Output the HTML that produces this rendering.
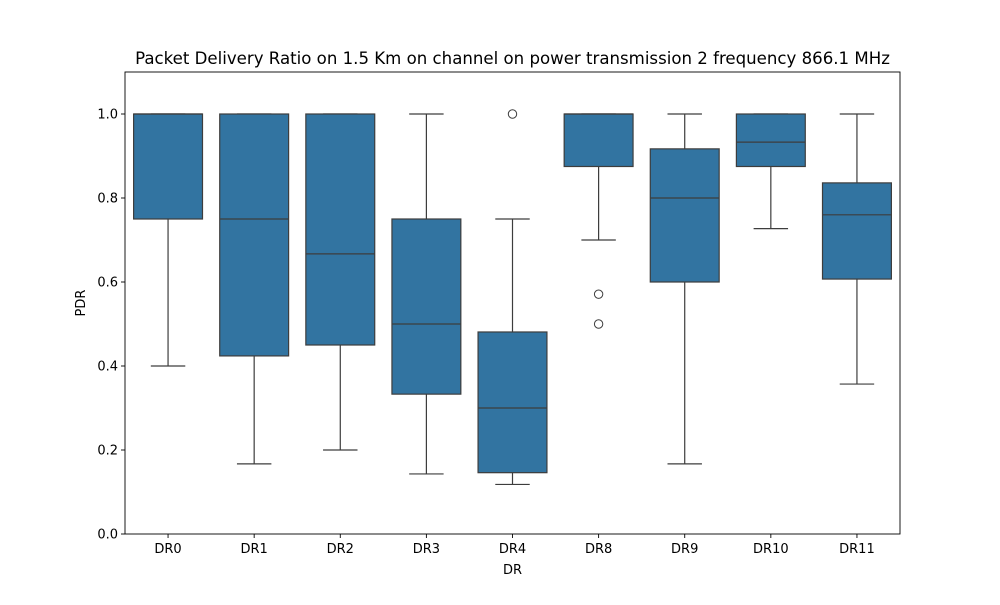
<!DOCTYPE html>
<html><head><meta charset="utf-8"><style>
body{margin:0;background:#fff;font-family:"Liberation Sans",sans-serif}
svg text{font-family:"DejaVu Sans","Liberation Sans",sans-serif;fill:#000}
</style></head><body>
<svg id="chart" width="1000" height="600" xmlns="http://www.w3.org/2000/svg">
<rect width="1000" height="600" fill="#fff"/>
<g id="marks"></g>
<g id="axes"></g>
</svg>
<script>
const categories=["DR0","DR1","DR2","DR3","DR4","DR8","DR9","DR10","DR11"];
const whiskerLow=[0.4,0.167,0.2,0.143,0.118,0.7,0.167,0.727,0.357];
const q1Values=[0.75,0.424,0.45,0.333,0.146,0.875,0.6,0.875,0.607];
const medianValues=[1.0,0.75,0.667,0.5,0.3,1.0,0.8,0.933,0.76];
const q3Values=[1.0,1.0,1.0,0.75,0.481,1.0,0.917,1.0,0.836];
const whiskerHigh=[1.0,1.0,1.0,1.0,0.75,1.0,1.0,1.0,1.0];
const outlierCats=["DR4","DR8","DR8"];
const outlierVals=[1.0,0.571,0.5];
const yTicks=[0,0.2,0.4,0.6,0.8,1.0];
const yTickLabels=["0.0","0.2","0.4","0.6","0.8","1.0"];

const NS="http://www.w3.org/2000/svg";
const L=125,R=900,T=72,B=534,yMax=1.1;
const band=(R-L)/categories.length;
const x=c=>L+band*(categories.indexOf(c)+0.5);
const y=v=>B-(v/yMax)*(B-T);
function mk(parent,tag,attrs){const e=document.createElementNS(NS,tag);for(const k in attrs)e.setAttribute(k,attrs[k]);parent.appendChild(e);return e;}
const marks=document.getElementById('marks'),axes=document.getElementById('axes');
const line="#3d3d3d",bw=band*0.8;
categories.forEach((c,i)=>{
  const g=mk(marks,'g',{});
  
  
  const cx=x(c);
  mk(g,'line',{x1:cx,x2:cx,y1:y(whiskerLow[i]),y2:y(q1Values[i]),stroke:line,'stroke-width':1.2});
  mk(g,'line',{x1:cx,x2:cx,y1:y(q3Values[i]),y2:y(whiskerHigh[i]),stroke:line,'stroke-width':1.2});
  mk(g,'line',{x1:cx-bw/4,x2:cx+bw/4,y1:y(whiskerLow[i]),y2:y(whiskerLow[i]),stroke:line,'stroke-width':1.2});
  mk(g,'line',{x1:cx-bw/4,x2:cx+bw/4,y1:y(whiskerHigh[i]),y2:y(whiskerHigh[i]),stroke:line,'stroke-width':1.2});
  mk(g,'rect',{x:cx-bw/2,y:y(q3Values[i]),width:bw,height:Math.max(0,y(q1Values[i])-y(q3Values[i])),fill:'#3274a1',stroke:line,'stroke-width':1.2});
  mk(g,'line',{x1:cx-bw/2,x2:cx+bw/2,y1:y(medianValues[i]),y2:y(medianValues[i]),stroke:line,'stroke-width':1.2});
});
outlierCats.forEach((c,i)=>{
  const o=mk(marks,'circle',{cx:x(c),cy:y(outlierVals[i]),r:4.2,fill:'none',stroke:line,'stroke-width':1});
  
  
});
const frame=mk(axes,'rect',{x:L,y:T,width:R-L,height:B-T,fill:'none',stroke:'#000','stroke-width':0.9});


yTicks.forEach((v,i)=>{
  mk(axes,'line',{x1:L-4,x2:L,y1:y(v),y2:y(v),stroke:'#000','stroke-width':0.9});
  const t=mk(axes,'text',{x:L-7,y:y(v)+4.5,'text-anchor':'end','font-size':13});
  t.textContent=yTickLabels[i];
  
  
});
categories.forEach(c=>{
  mk(axes,'line',{x1:x(c),x2:x(c),y1:B,y2:B+4,stroke:'#000','stroke-width':0.9});
  const t=mk(axes,'text',{x:x(c),y:B+19,'text-anchor':'middle','font-size':13});
  t.textContent=c;
  
  
});
const xt=mk(axes,'text',{x:(L+R)/2,y:574,'text-anchor':'middle','font-size':13});
xt.textContent="DR";


const yt=mk(axes,'text',{x:0,y:0,'text-anchor':'middle','font-size':13,transform:`translate(85 ${(T+B)/2}) rotate(-90)`});
yt.textContent="PDR";


const tt=mk(axes,'text',{x:(L+R)/2,y:64,'text-anchor':'middle','font-size':16.6});
tt.textContent="Packet Delivery Ratio on 1.5 Km on channel on power transmission 2 frequency 866.1 MHz";


</script>
</body></html>
